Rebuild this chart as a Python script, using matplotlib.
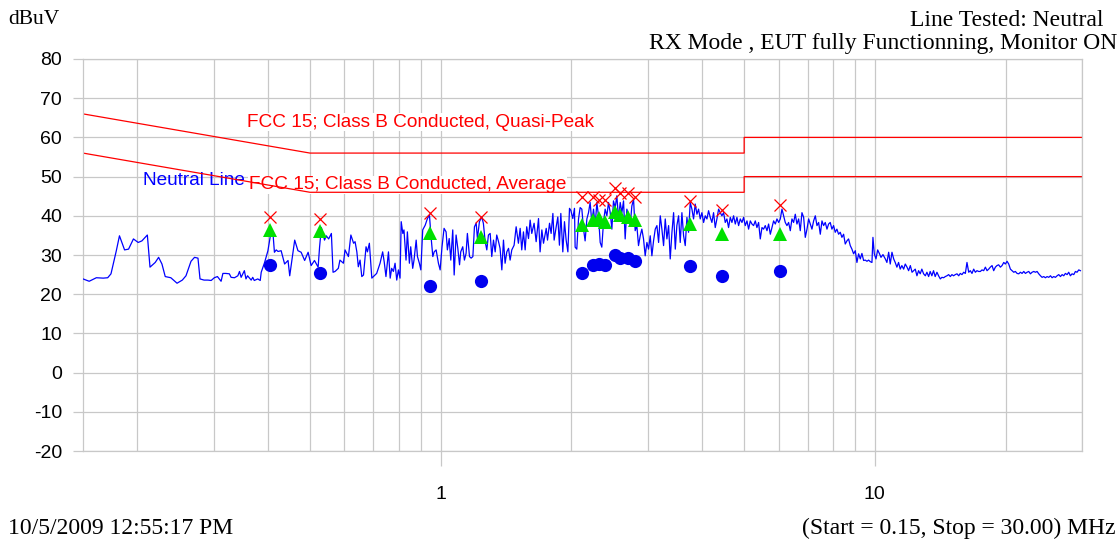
import matplotlib
matplotlib.use("Agg")
import matplotlib.pyplot as plt
from matplotlib.ticker import FixedLocator, NullFormatter, FixedFormatter

plt.rcParams["axes.unicode_minus"] = False

# limites FCC 15 classe B (MHz, dBuV)
QP_FREQ = [0.15, 0.5, 5.0, 5.0, 30.0]
QP_LEVEL = [66, 56, 56, 60, 60]
AV_FREQ = [0.15, 0.5, 5.0, 5.0, 30.0]
AV_LEVEL = [56, 46, 46, 50, 50]

# pontos medidos (pico, quase-pico, media)
MARK_FREQ = [0.404, 0.528, 0.945, 1.24, 2.12, 2.245, 2.31, 2.39, 2.52, 2.59,
             2.70, 2.80, 3.75, 4.45, 6.05]
PK_LEVEL = [39.8, 39.1, 40.6, 39.8, 44.8, 44.8, 44.0, 44.0, 47.1, 45.8,
            45.8, 44.8, 43.8, 41.5, 42.8]
QP_MEAS = [36.4, 36.2, 35.5, 34.5, 37.7, 38.9, 39.4, 38.4, 41.0, 40.2,
           39.7, 38.9, 37.9, 35.4, 35.4]
AV_MEAS = [27.4, 25.5, 22.1, 23.4, 25.4, 27.4, 27.7, 27.4, 30.0, 29.2,
           29.2, 28.5, 27.2, 24.6, 25.9]

# varredura "Neutral Line"
TRACE_FREQ = [
    0.150, 0.155, 0.161, 0.167, 0.171, 0.174, 0.179, 0.182, 0.187, 0.191,
    0.196, 0.201, 0.205, 0.211, 0.214, 0.220, 0.224, 0.228, 0.232, 0.239,
    0.247, 0.254, 0.259, 0.266, 0.271, 0.276, 0.279, 0.285, 0.291, 0.296,
    0.301, 0.306, 0.312, 0.315, 0.320, 0.326, 0.329, 0.335, 0.341, 0.344,
    0.347, 0.353, 0.356, 0.359, 0.366, 0.369, 0.372, 0.379, 0.384, 0.386,
    0.393, 0.400, 0.407, 0.411, 0.414, 0.418, 0.422, 0.429, 0.437, 0.445,
    0.449, 0.453, 0.461, 0.469, 0.477, 0.486, 0.495, 0.503, 0.512, 0.522,
    0.526, 0.531, 0.540, 0.545, 0.552, 0.560, 0.565,
    0.571, 0.581, 0.586, 0.597, 0.602, 0.613, 0.621, 0.630, 0.635, 0.641,
    0.646, 0.652, 0.658, 0.664, 0.673, 0.678, 0.685, 0.694, 0.700, 0.712,
    0.725, 0.735, 0.741, 0.748, 0.758, 0.765, 0.771, 0.778, 0.785, 0.792,
    0.799, 0.806, 0.811, 0.818, 0.823, 0.832, 0.838, 0.847, 0.853, 0.862,
    0.868, 0.878, 0.884, 0.893, 0.900, 0.909, 0.921, 0.932, 0.942, 0.950,
    0.959, 0.966, 0.976, 0.988, 0.997, 1.007, 1.018, 1.029, 1.036, 1.046,
    1.055, 1.066, 1.074, 1.085, 1.095, 1.105, 1.112, 1.124, 1.134, 1.144,
    1.152, 1.165, 1.175, 1.186, 1.196, 1.207, 1.215, 1.228, 1.243, 1.254,
    1.266, 1.277, 1.288, 1.300, 1.311, 1.323, 1.335, 1.346, 1.359, 1.370,
    1.383, 1.395, 1.407, 1.420, 1.433, 1.445, 1.458, 1.476, 1.492, 1.510,
    1.524, 1.537, 1.551, 1.565, 1.578, 1.593, 1.607, 1.621, 1.641, 1.659,
    1.680, 1.694, 1.710, 1.725, 1.750, 1.762, 1.781, 1.796, 1.813, 1.825,
    1.845, 1.861, 1.877, 1.891, 1.911, 1.928, 1.945, 1.963, 1.980, 1.994,
    2.015, 2.033,
    2.040, 2.058, 2.077, 2.095, 2.114, 2.133, 2.151, 2.171, 2.190, 2.209,
    2.229, 2.249, 2.269, 2.289, 2.309, 2.330, 2.350, 2.371, 2.392, 2.414,
    2.435, 2.457, 2.479, 2.500, 2.523, 2.545, 2.568, 2.591, 2.614, 2.637,
    2.660, 2.684, 2.708, 2.732, 2.756, 2.781, 2.805, 2.830, 2.855, 2.881,
    2.906, 2.932, 2.958, 2.985, 3.011, 3.038, 3.065, 3.092, 3.120, 3.148,
    3.176, 3.204, 3.232, 3.261, 3.290, 3.319, 3.349, 3.378, 3.409, 3.439,
    3.470, 3.499, 3.531, 3.562, 3.594, 3.626, 3.658, 3.691, 3.723, 3.756,
    3.790, 3.823, 3.857, 3.892, 3.926, 3.961, 3.996, 4.032, 4.068, 4.104,
    4.140, 4.177, 4.214, 4.251, 4.289, 4.327, 4.366, 4.405, 4.443, 4.483,
    4.523, 4.563, 4.603, 4.645, 4.686, 4.727, 4.770, 4.812, 4.855, 4.898,
    4.942, 4.985, 5.029, 5.075, 5.119, 5.165, 5.211, 5.256, 5.304, 5.350,
    5.398, 5.446, 5.495, 5.543, 5.592, 5.643, 5.692, 5.744, 5.794, 5.845,
    5.898, 5.950, 6.003, 6.056, 6.110, 6.164, 6.218, 6.274, 6.329, 6.386,
    6.442, 6.499, 6.557, 6.615, 6.674, 6.733, 6.793, 6.855, 6.914, 6.977,
    7.038, 7.101, 7.163, 7.227, 7.292, 7.356, 7.422, 7.487, 7.554, 7.620,
    7.687, 7.757, 7.825,
    7.893, 7.963, 8.034, 8.105, 8.177, 8.250, 8.323, 8.397, 8.472, 8.547,
    8.623, 8.699, 8.777, 8.855, 8.934, 9.014, 9.093, 9.174, 9.256, 9.337,
    9.421, 9.504, 9.590, 9.674, 9.759, 9.847, 9.899, 9.970, 10.06, 10.15,
    10.25, 10.33, 10.44, 10.57, 10.66, 10.76, 10.85, 10.95, 11.05, 11.14,
    11.24, 11.34, 11.44, 11.54, 11.65, 11.75, 11.86, 11.96, 12.07, 12.18,
    12.28, 12.39, 12.50, 12.61, 12.72, 12.83, 12.95, 13.07, 13.18, 13.30,
    13.41, 13.53, 13.65, 13.77, 13.90, 14.02, 14.15, 14.27, 14.40, 14.53,
    14.66, 14.79, 14.92, 15.05, 15.18, 15.32, 15.46, 15.60, 15.73, 15.87,
    16.02, 16.16, 16.30, 16.45, 16.59, 16.74, 16.89, 17.04, 17.19, 17.34,
    17.50, 17.65, 17.81, 17.97, 18.13, 18.29, 18.45, 18.62, 18.78, 18.95,
    19.11, 19.28, 19.46, 19.63, 19.81, 19.98, 20.16, 20.34, 20.52, 20.70,
    20.89, 21.07, 21.26, 21.45, 21.64, 21.83, 22.03, 22.22, 22.42, 22.62,
    22.82, 23.02, 23.23, 23.44, 23.64, 23.85, 24.07, 24.28, 24.49, 24.71,
    24.93, 25.15, 25.38, 25.60, 25.82, 26.06, 26.29, 26.52, 26.76, 27.00,
    27.23, 27.47, 27.72, 27.96, 28.21, 28.46, 28.72, 28.97, 29.22, 29.49,
    29.75,
]
TRACE_LEVEL = [
    23.9, 23.3, 24.2, 24.1, 24.2, 25.2, 31.1, 34.9, 31.3, 31.5,
    34.1, 33.2, 33.6, 35.1, 26.9, 28.1, 29.4, 27.7, 24.5, 24.2,
    22.8, 23.6, 24.7, 28.4, 29.4, 29.2, 23.9, 23.6, 23.6, 23.5,
    24.2, 24.5, 23.3, 25.3, 25.3, 25.2, 24.3, 24.2, 24.7, 25.8,
    24.3, 26.0, 23.9, 24.7, 23.6, 24.3, 23.5, 23.9, 23.5, 25.6,
    28.1, 31.1, 36.2, 35.3, 30.7, 31.3, 30.9, 31.1, 27.7, 28.6,
    24.7, 27.7, 33.8, 31.1, 30.7, 28.6, 30.7, 27.3, 28.6, 26.9,
    32.0, 37.0, 33.8, 34.9, 34.1, 35.5, 25.6,
    25.8, 26.6, 28.7, 27.9, 31.3, 29.6, 35.1, 33.0, 33.4, 30.8,
    27.0, 28.7, 24.5, 24.9, 32.1, 30.8, 33.0, 24.1, 24.5, 25.3,
    27.9, 30.8, 28.3, 24.5, 30.8, 24.1, 26.6, 25.8, 27.9, 23.6,
    26.2, 24.1, 38.5, 35.5, 36.4, 28.7, 35.9, 27.9, 32.1, 26.6,
    28.7, 33.8, 29.6, 27.9, 26.2, 36.4, 37.6, 39.3, 40.2, 34.7,
    29.6, 30.8, 31.3, 27.9, 26.2, 32.1, 36.8, 35.9, 31.3, 34.2,
    28.7, 36.4, 24.9, 35.1, 31.7, 27.5, 30.8, 32.1, 28.7, 30.4,
    35.5, 29.6, 29.2, 29.6, 37.2, 38.1, 34.2, 38.5, 39.7, 38.1,
    33.4, 31.3, 35.1, 35.5, 29.6, 33.8, 30.8, 35.1, 33.4, 31.7,
    26.2, 33.8, 27.9, 30.8, 31.7, 28.7, 31.3, 32.5, 37.2, 33.0,
    36.8, 31.3, 35.9, 31.3, 37.2, 34.2, 38.9, 35.5, 38.1, 33.4,
    39.3, 30.8, 36.4, 33.0, 36.8, 33.8, 38.1, 35.5, 40.6, 33.8,
    37.2, 39.7, 32.5, 40.6, 30.8, 38.5, 33.8, 30.8, 41.9, 41.4,
    39.3, 41.9,
    32.0, 31.5, 39.2, 42.1, 41.7, 36.6, 33.6, 39.2, 40.8, 43.4,
    38.3, 41.7, 37.5, 43.4, 40.0, 33.2, 32.0, 38.3, 41.7, 40.0,
    43.4, 40.8, 36.6, 43.8, 42.1, 45.1, 39.2, 43.4, 40.8, 43.8,
    34.1, 41.7, 40.0, 37.5, 42.5, 44.2, 36.2, 37.5, 32.4, 34.9,
    36.6, 34.1, 29.8, 33.2, 31.5, 34.9, 29.8, 33.6, 36.6, 37.5,
    33.2, 40.0, 36.6, 32.4, 39.2, 34.1, 37.5, 29.0, 35.8, 40.8,
    31.5, 37.5, 40.0, 33.2, 40.8, 34.9, 32.4, 39.6, 35.8, 43.4,
    41.7, 39.2, 43.0, 40.4, 41.7, 39.2, 40.8, 38.3, 40.0, 39.2,
    41.3, 39.6, 38.3, 40.8, 37.0, 39.2, 41.7, 40.8, 40.0, 40.8,
    38.3, 39.2, 37.0, 39.6, 38.3, 40.0, 37.9, 39.6, 37.5, 39.2,
    38.3, 39.6, 37.5, 38.7, 36.6, 38.7, 37.9, 37.5, 38.7, 37.0,
    38.3, 34.1, 37.0, 36.6, 37.5, 36.2, 37.9, 35.3, 37.0, 38.7,
    37.9, 39.2, 38.3, 39.2, 41.7, 40.0, 38.3, 37.5, 38.3, 36.2,
    39.2, 38.3, 40.4, 37.9, 39.2, 36.2, 40.8, 39.6, 34.5, 36.6,
    39.2, 37.9, 36.6, 38.7, 40.0, 37.5, 38.3, 35.3, 38.7, 37.5,
    38.3, 36.6, 37.9,
    38.3, 36.6, 37.5, 35.8, 36.6, 35.3, 35.8, 34.5, 35.3, 32.8,
    33.6, 34.1, 32.4, 31.5, 30.3, 31.1, 28.1, 30.3, 29.0, 30.4,
    28.6, 28.7, 28.4, 28.7, 28.3, 28.1, 34.5, 30.3, 29.0, 31.3,
    30.3, 29.4, 30.1, 29.0, 28.1, 30.7, 27.7, 30.7, 29.0, 28.1,
    26.9, 28.1, 26.4, 27.3, 26.4, 27.7, 26.9, 26.0, 27.3, 25.6,
    26.0, 26.4, 24.7, 26.0, 25.2, 26.4, 25.2, 24.7, 25.6, 24.5,
    25.8, 24.7, 26.0, 24.5, 25.6, 24.7, 23.9, 24.3, 24.2, 24.5,
    24.7, 25.0, 24.5, 25.0, 24.7, 25.0, 25.2, 24.7, 25.3, 25.0,
    25.6, 25.3, 28.1, 25.6, 26.0, 25.3, 26.4, 25.6, 26.0, 25.8,
    25.8, 26.2, 26.0, 26.9, 26.0, 26.4, 26.9, 27.3, 26.0, 26.9,
    27.3, 27.5, 26.9, 27.3, 28.1, 27.7, 28.4, 27.7, 26.4, 26.0,
    25.6, 25.8, 25.3, 25.2, 25.6, 25.3, 25.8, 25.3, 25.6, 25.8,
    25.2, 25.6, 25.8, 25.6, 25.8, 25.2, 24.7, 24.3, 24.5, 24.2,
    24.5, 24.3, 24.7, 24.2, 24.5, 24.3, 24.7, 25.0, 24.5, 25.0,
    24.7, 25.3, 25.0, 25.6, 24.7, 25.2, 25.0, 25.8, 25.6, 26.2,
    26.0,
]
assert len(TRACE_FREQ) == len(TRACE_LEVEL)

Y_TICKS = [-20, -10, 0, 10, 20, 30, 40, 50, 60, 70, 80]
X_MAJOR = [1, 10]
X_MINOR = [0.2, 0.3, 0.4, 0.5, 0.6, 0.7, 0.8, 0.9,
           2, 3, 4, 5, 6, 7, 8, 9, 20, 30]

GRID = "#c8c8c8"
SANS = ["Liberation Sans", "DejaVu Sans"]
SERIF = ["Liberation Serif", "DejaVu Serif"]

fig = plt.figure(figsize=(11.19, 5.40), dpi=100)
ax = fig.add_axes([83 / 1119, 1 - 451 / 540, 999 / 1119, 392 / 540])

ax.set_xscale("log")
ax.set_xlim(0.15, 30)
ax.set_ylim(-20, 80)

# grade
for f in X_MINOR + X_MAJOR:
    ax.axvline(f, color=GRID, lw=0.9, zorder=0)
for v in Y_TICKS:
    ax.axhline(v, color=GRID, lw=0.9, zorder=0)
for s in ax.spines.values():
    s.set_color(GRID)
    s.set_linewidth(0.9)

ax.xaxis.set_major_locator(FixedLocator(X_MAJOR))
ax.xaxis.set_major_formatter(FixedFormatter(["1", "10"]))
ax.xaxis.set_minor_locator(FixedLocator(X_MINOR))
ax.xaxis.set_minor_formatter(NullFormatter())
ax.tick_params(axis="x", which="major", length=11, width=0.9, color=GRID,
               pad=14, labelsize=14)
ax.tick_params(axis="x", which="minor", length=0)
ax.set_yticks(Y_TICKS)
ax.tick_params(axis="y", length=7, width=0.9, color=GRID, pad=8, labelsize=14)
for lab in ax.get_xticklabels() + ax.get_yticklabels():
    lab.set_family(SANS)

# limites
ax.plot(QP_FREQ, QP_LEVEL, color="red", lw=0.9, zorder=2)
ax.plot(AV_FREQ, AV_LEVEL, color="red", lw=0.9, zorder=2)

# traco medido
ax.plot(TRACE_FREQ, TRACE_LEVEL, color="#0000ff", lw=0.9, zorder=3)

# marcadores
ax.plot(MARK_FREQ, PK_LEVEL, "x", color="red", ms=9, mew=0.9, zorder=5)
ax.plot(MARK_FREQ, QP_MEAS, "^", color="#00e000", ms=10, mew=0, zorder=5)
ax.plot(MARK_FREQ, AV_MEAS, "o", color="#0000ee", ms=9.5, mew=0, zorder=5)

# rotulos das linhas (fundo branco por baixo das linhas de limite)
box = dict(facecolor="white", edgecolor="none", pad=0.5)
ax.text(0.358, 63.9, "FCC 15; Class B Conducted, Quasi-Peak", color="red",
        fontsize=13.7, family=SANS, va="center", ha="left", bbox=box,
        zorder=1.5)
ax.text(0.362, 47.9, "FCC 15; Class B Conducted, Average", color="red",
        fontsize=13.7, family=SANS, va="center", ha="left", bbox=box,
        zorder=1.5)
ax.text(0.206, 49.1, "Neutral Line", color="#0000ff",
        fontsize=13.7, family=SANS, va="center", ha="left", zorder=1.5)

# textos do cabecalho e rodape
fig.text(8 / 1119, 1 - 20 / 540, "dBuV", family=SERIF, fontsize=15.5,
         va="center", ha="left")
fig.text(1104 / 1119, 1 - 20 / 540, "Line Tested: Neutral", family=SERIF,
         fontsize=17, va="center", ha="right")
fig.text(1117 / 1119, 1 - 43 / 540,
         "RX Mode , EUT fully Functionning, Monitor ON", family=SERIF,
         fontsize=17, va="center", ha="right")
fig.text(8 / 1119, 1 - 528 / 540, "10/5/2009 12:55:17 PM", family=SERIF,
         fontsize=17, va="center", ha="left")
fig.text(1115 / 1119, 1 - 528 / 540, "(Start = 0.15, Stop = 30.00) MHz",
         family=SERIF, fontsize=17, va="center", ha="right")

fig.savefig("out.png", dpi=100)
